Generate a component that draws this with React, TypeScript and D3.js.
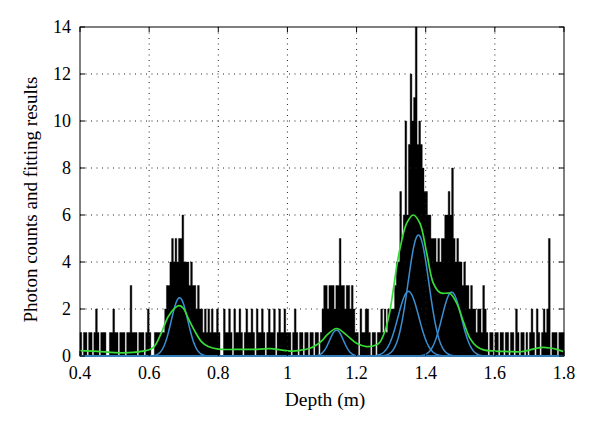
import React from 'react';
import * as d3 from 'd3';

// histogram: photon counts per 0.005 m depth bin, starting at 0.4 m
const binStart = 0.4;
const binWidth = 0.005;
const counts040 = [1,0,1,1,0,1,1,0,1,2, 1,0,1,1,1,0,0,1,1,2, 1,1,0,1,1,1,0,1,1,3, 1,1,1,0,1,1,1,0,1,2];
const counts060 = [1,0,0,1,1,1,1,1,1,2, 3,3,4,5,4,5,4,5,5,6, 4,4,4,3,4,3,3,2,3,2, 2,1,2,1,2,1,2,1,1,2];
const counts080 = [1,0,0,2,1,1,2,1,0,2, 1,1,2,1,0,1,2,1,1,2, 1,0,2,1,1,2,1,0,1,2, 1,1,2,0,1,2,1,1,2,1];
const counts100 = [1,1,0,1,2,1,0,1,1,0, 1,1,0,1,1,0,1,1,0,1, 2,3,3,2,3,3,3,2,3,3, 5,3,3,2,3,3,2,3,2,1];
const counts120 = [1,0,2,1,1,2,2,1,0,1, 1,0,1,1,2,1,2,1,2,2, 2,2,3,4,4,7,5,6,10,6, 9,12,10,11,14,9,10,9,8,7];
const counts140 = [7,6,6,5,5,5,4,5,4,5, 5,6,6,7,6,8,5,4,5,4, 4,3,4,3,3,2,3,2,2,1, 2,2,1,3,2,1,0,1,1,0];
const counts160 = [1,1,0,1,1,0,1,1,0,1, 1,0,2,1,0,1,1,0,1,0, 1,2,1,0,2,1,0,1,2,1, 2,5,0,1,1,1,0,1,1,1];
const counts = [...counts040, ...counts060, ...counts080, ...counts100, ...counts120, ...counts140, ...counts160];

// gaussian components of the fit (blue)
const compAmp = [2.48, 1.1, 2.75, 5.15, 2.72];
const compMean = [0.688, 1.142, 1.35, 1.379, 1.475];
const compSigma = [0.024, 0.02, 0.03, 0.03, 0.028];

// overall fitting result (green)
const fitDepth = [0.4, 0.45, 0.5, 0.54, 0.587, 0.605, 0.616, 0.635, 0.655, 0.674, 0.686, 0.698, 0.713, 0.733, 0.752, 0.771, 0.8, 0.85, 0.9, 0.95, 0.98, 1.01, 1.04, 1.065, 1.085, 1.103, 1.114, 1.142, 1.171, 1.2, 1.229, 1.258, 1.268, 1.282, 1.295, 1.306, 1.316, 1.326, 1.345, 1.364, 1.383, 1.403, 1.422, 1.441, 1.46, 1.47, 1.49, 1.509, 1.528, 1.548, 1.567, 1.6, 1.64, 1.673, 1.7, 1.721, 1.74, 1.76, 1.779, 1.8];
const fitValue = [0.23, 0.2, 0.14, 0.14, 0.22, 0.3, 0.42, 0.97, 1.67, 2.04, 2.14, 2.05, 1.6, 1.03, 0.6, 0.4, 0.29, 0.28, 0.28, 0.31, 0.26, 0.21, 0.25, 0.33, 0.48, 0.7, 0.89, 1.17, 0.89, 0.54, 0.4, 0.48, 0.6, 1.05, 1.8, 2.8, 3.8, 4.6, 5.65, 6.0, 5.65, 4.37, 3.1, 2.7, 2.67, 2.67, 2.24, 1.46, 0.75, 0.4, 0.26, 0.21, 0.19, 0.18, 0.25, 0.33, 0.37, 0.34, 0.28, 0.18];

const xTicks = [0.4, 0.6, 0.8, 1.0, 1.2, 1.4, 1.6, 1.8];
const xTickLabels = ['0.4', '0.6', '0.8', '1', '1.2', '1.4', '1.6', '1.8'];
const yTicks = [0, 2, 4, 6, 8, 10, 12, 14];

const W = 600;
const H = 436;
const margin = { top: 27, right: 36, bottom: 80, left: 80 };
const font = '"Liberation Serif", "DejaVu Serif", serif';

export default function App() {
  const innerW = W - margin.left - margin.right;
  const innerH = H - margin.top - margin.bottom;

  const x = d3.scaleLinear().domain([0.4, 1.8]).range([0, innerW]);
  const y = d3.scaleLinear().domain([0, 14]).range([innerH, 0]);

  const bins = counts.map((c, i) => ({ d: binStart + i * binWidth, c }));
  bins.push({ d: binStart + counts.length * binWidth, c: counts[counts.length - 1] });

  const histArea = d3.area<{ d: number; c: number }>()
    .x(b => x(b.d))
    .y0(y(0))
    .y1(b => y(b.c))
    .curve(d3.curveStepAfter);

  const grid = d3.range(0.4, 1.8001, 0.0025);
  const compPaths = compAmp.map((a, k) => {
    const pts = grid.map(d => [d, a * Math.exp(-((d - compMean[k]) ** 2) / (2 * compSigma[k] ** 2))] as [number, number]);
    return d3.line<[number, number]>().x(p => x(p[0])).y(p => y(p[1]))(pts);
  });

  const fitLine = d3.line<number>()
    .x((_, i) => x(fitDepth[i]))
    .y(v => y(v))
    .curve(d3.curveCatmullRom.alpha(0.5));

  const tick = 5;

  return (
    <svg width={W} height={H} style={{ position: 'absolute', left: 0, top: 0, background: '#fff' }}>
      <g transform={`translate(${margin.left},${margin.top})`}>
        <path d={histArea(bins) ?? ''} fill="#000" stroke="#000" strokeWidth={0.4} />

        {xTicks.slice(1, -1).map(t => (
          <line key={'gx' + t} x1={x(t)} x2={x(t)} y1={0} y2={innerH}
            stroke="#222" strokeWidth={1} strokeDasharray="1,4.5" />
        ))}
        {yTicks.slice(1, -1).map(t => (
          <line key={'gy' + t} x1={0} x2={innerW} y1={y(t)} y2={y(t)}
            stroke="#222" strokeWidth={1} strokeDasharray="1,4.5" />
        ))}

        {compPaths.map((p, k) => (
          <path key={'c' + k} d={p ?? ''} fill="none" stroke="#3a8ed2" strokeWidth={1.5} />
        ))}
        <path d={fitLine(fitValue) ?? ''} fill="none" stroke="#38dc38" strokeWidth={1.7} />

        <rect x={0} y={0} width={innerW} height={innerH} fill="none" stroke="#000" strokeWidth={1} />
        <line x1={0} x2={innerW} y1={innerH} y2={innerH} stroke="#3a8ed2" strokeWidth={1.5} />

        {xTicks.map((t, i) => (
          <g key={'xt' + t}>
            <line x1={x(t)} x2={x(t)} y1={innerH} y2={innerH - tick} stroke="#000" />
            <line x1={x(t)} x2={x(t)} y1={0} y2={tick} stroke="#000" />
            <text x={x(t)} y={innerH + 23} textAnchor="middle" fontFamily={font} fontSize={18}>
              {xTickLabels[i]}
            </text>
          </g>
        ))}
        {yTicks.map(t => (
          <g key={'yt' + t}>
            <line x1={0} x2={tick} y1={y(t)} y2={y(t)} stroke="#000" />
            <line x1={innerW} x2={innerW - tick} y1={y(t)} y2={y(t)} stroke="#000" />
            <text x={-9} y={y(t)} dy="0.33em" textAnchor="end" fontFamily={font} fontSize={18}>
              {t}
            </text>
          </g>
        ))}

        <text x={innerW / 2 + 3} y={innerH + 50} textAnchor="middle" fontFamily={font} fontSize={19.5}>
          Depth (m)
        </text>
        <text transform={`translate(${-43},${innerH / 2 + 8}) rotate(-90)`} textAnchor="middle"
          fontFamily={font} fontSize={19}>
          Photon counts and fitting results
        </text>
      </g>
    </svg>
  );
}
